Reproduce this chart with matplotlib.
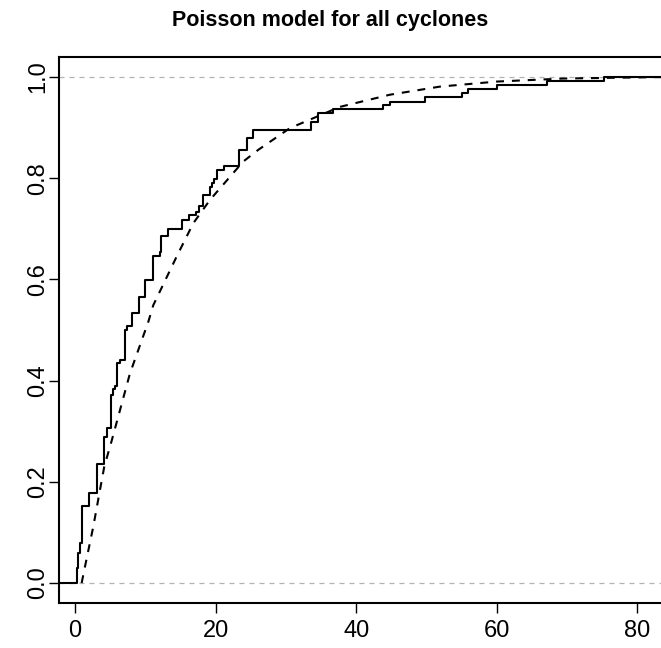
import matplotlib
matplotlib.use("Agg")
from matplotlib import pyplot as plt
import numpy as np

# empirical CDF: jump locations and the level after each jump
step_x = [0.24, 0.47, 0.71, 0.95, 1.04, 2.06, 3.09, 4.13, 4.51, 5.08, 5.41, 5.69,
          6.02, 6.40, 7.07, 7.35, 8.07, 9.17, 9.96, 11.17, 12.09, 12.19, 13.27,
          15.18, 16.26, 17.21, 17.64, 18.25, 19.20, 19.49, 19.77, 20.24, 21.19,
          23.33, 24.51, 25.36, 33.53, 34.61, 36.66, 43.77, 44.81, 49.79, 55.01,
          55.86, 60.10, 67.10, 75.25]
step_y = [0.03, 0.06, 0.08, 0.10, 0.152, 0.178, 0.235, 0.288, 0.306, 0.372, 0.383, 0.39,
          0.435, 0.44, 0.50, 0.507, 0.533, 0.566, 0.599, 0.646, 0.655, 0.686, 0.70,
          0.717, 0.727, 0.734, 0.745, 0.767, 0.782, 0.79, 0.798, 0.816, 0.824,
          0.856, 0.879, 0.895, 0.912, 0.928, 0.936, 0.945, 0.951, 0.96, 0.969,
          0.976, 0.984, 0.992, 1.0]

# fitted model curve (dashed)
model_x = [0.95, 1.42, 2.6, 3.56, 4.17, 5.2, 7.82, 10.43, 11.14, 14.46, 16.83, 19.2,
           22.5, 23.94, 26.07, 30.58, 37.7, 44.8, 51.9, 60.0, 69.5, 84.0]
model_y = [0.0, 0.032, 0.111, 0.184, 0.23, 0.28, 0.414, 0.516, 0.549, 0.645, 0.711, 0.757,
           0.81, 0.833, 0.856, 0.899, 0.941, 0.965, 0.981, 0.991, 0.997, 1.0]

x_ticks = [0, 20, 40, 60, 80]
y_ticks = [0.0, 0.2, 0.4, 0.6, 0.8, 1.0]

plt.rcParams["font.family"] = ["Liberation Sans", "DejaVu Sans"]

xmin, xmax = -2.2, 84.5
ymin, ymax = -0.0395, 1.0395

fig = plt.figure(figsize=(6.61, 6.48), dpi=100)
ax = fig.add_axes([0.090, 0.0694, 0.922, 0.8426])

# grey reference lines at 0 and 1
for h in (0, 1):
    ax.axhline(h, color="#b3b3b3", lw=0.9, dashes=(4, 4))

sx = np.concatenate([[xmin], step_x, [xmax]])
sy = np.concatenate([[0.0], step_y, [step_y[-1]]])
ax.step(sx, sy, where="post", color="black", lw=1.5)

ax.plot(model_x, model_y, color="black", lw=1.5, dashes=(3.8, 3.8), dash_capstyle="butt")

ax.set_xlim(xmin, xmax)
ax.set_ylim(ymin, ymax)
ax.set_xticks(x_ticks)
ax.set_yticks(y_ticks)
ax.set_xticklabels([str(t) for t in x_ticks])
ax.set_yticklabels(["%.1f" % t for t in y_ticks], rotation=90, va="center")
ax.tick_params(length=7, width=1, labelsize=17)
ax.tick_params(axis="x", pad=5.5)
ax.tick_params(axis="y", pad=0.5)
for s in ax.spines.values():
    s.set_linewidth(1.5)

fig.text(0.5, 0.969, "Poisson model for all cyclones", ha="center", va="center",
         fontsize=15.5, fontweight="bold")

fig.savefig("out.png", dpi=100)
